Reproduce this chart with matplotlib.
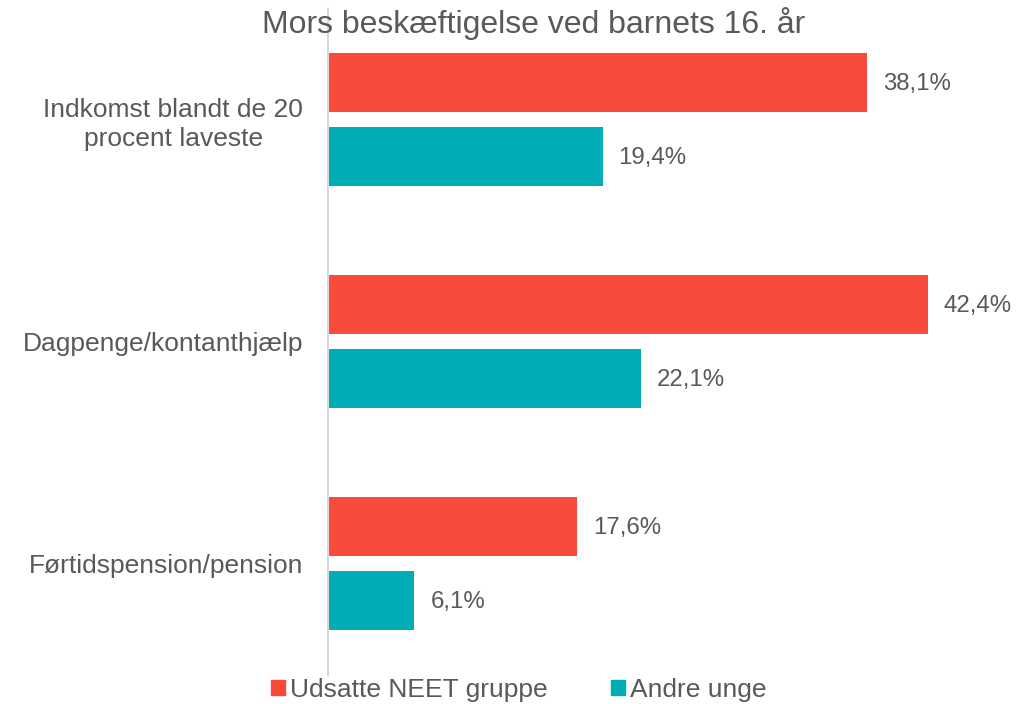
import numpy as np
import matplotlib.pyplot as plt
from matplotlib.patches import Patch

plt.rcParams['font.family'] = ['Liberation Sans', 'DejaVu Sans']

categories = ['Indkomst blandt de 20\nprocent laveste',
              'Dagpenge/kontanthjælp',
              'Førtidspension/pension']
series_names = ['Udsatte NEET gruppe', 'Andre unge']
neet = [38.1, 42.4, 17.6]
andre = [19.4, 22.1, 6.1]
title = 'Mors beskæftigelse ved barnets 16. år'

RED = '#F84B3C'
TEAL = '#00ADB5'
GREY = '#595959'

W, H = 1025, 704
fig = plt.figure(figsize=(W / 100, H / 100), dpi=100)
# axes placed in pixel coordinates: x=0 at 328px, 1% = 14.15px
x0, px_per = 328, 14.15
xmax = 48
ax = fig.add_axes([x0 / W, (H - 674.5) / H, xmax * px_per / W, 666 / H])

y = np.arange(len(categories))
h = 59 / 222
off = 37 / 222
ax.barh(y - off, neet, height=h, color=RED, label=series_names[0])
ax.barh(y + off, andre, height=h, color=TEAL, label=series_names[1])

for yy, v in zip(y - off, neet):
    ax.text(v + 16 / px_per, yy + 0.008, f'{v:.1f}%'.replace('.', ','), va='center',
            ha='left', fontsize=17.3, color=GREY)
for yy, v in zip(y + off, andre):
    ax.text(v + 16 / px_per, yy + 0.008, f'{v:.1f}%'.replace('.', ','), va='center',
            ha='left', fontsize=17.3, color=GREY)

ax.set_xlim(0, xmax)
ax.set_ylim(2.5, -0.5)
ax.set_yticks(y)
ax.set_yticklabels(categories, fontsize=19, color=GREY, multialignment='center',
                   linespacing=1.25)
ax.tick_params(axis='y', length=0, pad=18)
ax.set_xticks([])
for s in ['top', 'right', 'bottom']:
    ax.spines[s].set_visible(False)
ax.spines['left'].set_color('#D9D9D9')
ax.spines['left'].set_linewidth(1.5)

fig.text(534 / W, 1 - 23 / H, title, ha='center', va='center', fontsize=23,
         color=GREY)

handles = [Patch(color=RED), Patch(color=TEAL)]
fig.legend(handles, series_names, loc='center', bbox_to_anchor=(519 / W, 1 - 690 / H),
           ncol=2, frameon=False, fontsize=19, labelcolor=GREY,
           handlelength=0.53, handleheight=0.53, handletextpad=0.19,
           columnspacing=2.4, borderpad=0, borderaxespad=0)

fig.savefig('out.png', dpi=100)
